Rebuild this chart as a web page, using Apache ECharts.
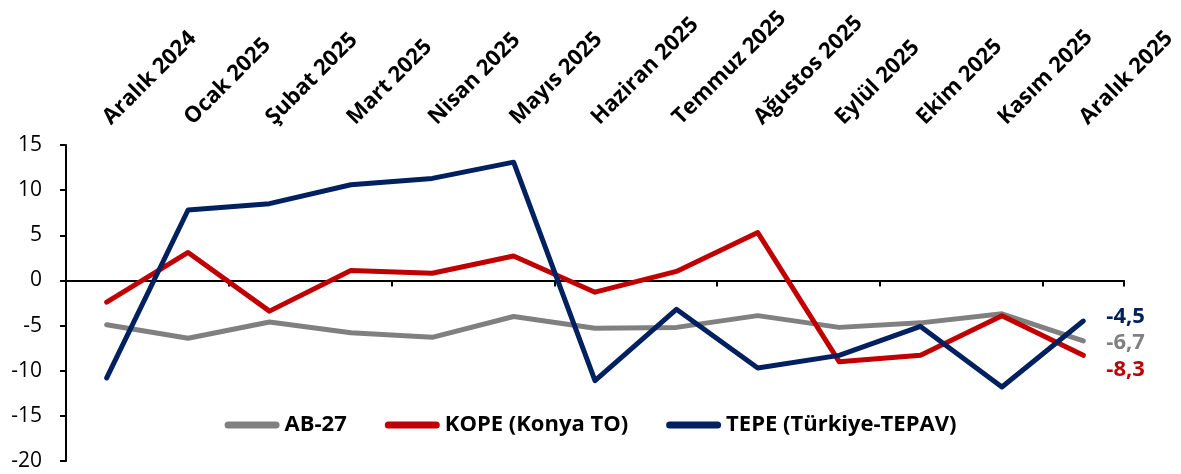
<!DOCTYPE html>
<html>
<head>
<meta charset="utf-8">
<script src="https://cdn.jsdelivr.net/npm/echarts@6/dist/echarts.min.js"></script>
<style>
  html, body { margin: 0; padding: 0; background: #fff; }
  #chart { width: 1181px; height: 474px; }
</style>
</head>
<body>
<div id="chart"></div>
<script>
const months = ["Aralık 2024", "Ocak 2025", "Şubat 2025", "Mart 2025", "Nisan 2025", "Mayıs 2025",
  "Haziran 2025", "Temmuz 2025", "Ağustos 2025", "Eylül 2025", "Ekim 2025", "Kasım 2025", "Aralık 2025"];
const ab27 = [-4.9, -6.4, -4.6, -5.8, -6.3, -4.0, -5.3, -5.2, -3.9, -5.2, -4.7, -3.7, -6.7];
const kope = [-2.4, 3.1, -3.4, 1.1, 0.8, 2.7, -1.3, 1.0, 5.3, -9.0, -8.3, -3.9, -8.3];
const tepe = [-10.8, 7.8, 8.5, 10.6, 11.3, 13.1, -11.1, -3.2, -9.7, -8.3, -5.1, -11.8, -4.5];

const font = "'Open Sans', 'Liberation Sans', sans-serif";

const chart = echarts.init(document.getElementById("chart"));

// value printed at the end of each line, in the series colour
function endLabel(color, dy) {
  return {
    show: true,
    distance: 23,
    offset: [0, dy],
    color: color,
    fontFamily: font,
    fontWeight: "bold",
    fontSize: 22,
    formatter: (p) => String(p.value).replace(".", ",")
  };
}

function lineSeries(name, data, color, dy) {
  return {
    name: name,
    type: "line",
    data: data,
    color: color,
    symbol: "none",
    lineStyle: { width: 5, color: color, cap: "round", join: "round" },
    endLabel: endLabel(color, dy)
  };
}

const option = {
  animation: false,
  grid: { left: 66, right: 57, top: 145, bottom: 13 },
  legend: {
    bottom: 33,
    left: "center",
    itemWidth: 55,
    itemHeight: 7,
    itemGap: 38,
    icon: "path://M3.5,0 L51.5,0 A3.5,3.5 0 0 1 51.5,7 L3.5,7 A3.5,3.5 0 0 1 3.5,0 Z",
    textStyle: { fontFamily: font, fontWeight: "bold", fontSize: 22, color: "#000" },
    data: ["AB-27", "KOPE (Konya TO)", "TEPE (Türkiye-TEPAV)"]
  },
  xAxis: [
    {
      type: "category",
      data: months,
      boundaryGap: true,
      axisLine: { onZero: true, lineStyle: { color: "#000", width: 2 } },
      axisTick: { show: true, inside: false, length: 6, lineStyle: { color: "#000", width: 2 } },
      axisLabel: { show: false },
      splitLine: { show: false }
    },
    {
      type: "category",
      data: months,
      position: "top",
      boundaryGap: true,
      axisLine: { show: false },
      axisTick: { show: false },
      axisLabel: {
        rotate: -45,
        margin: 24,
        interval: 0,
        fontFamily: font,
        fontWeight: "bold",
        fontSize: 22,
        color: "#000"
      }
    }
  ],
  yAxis: {
    type: "value",
    min: -20,
    max: 15,
    interval: 5,
    axisLine: { show: true, lineStyle: { color: "#000", width: 2 } },
    axisTick: { show: true, length: 6, lineStyle: { color: "#000", width: 2 } },
    axisLabel: { fontFamily: font, fontSize: 21, color: "#000", margin: 24 },
    splitLine: { show: false }
  },
  series: [
    lineSeries("AB-27", ab27, "#808080", 2),
    lineSeries("KOPE (Konya TO)", kope, "#C00000", 14),
    lineSeries("TEPE (Türkiye-TEPAV)", tepe, "#002060", -4)
  ]
};

chart.setOption(option);
</script>
</body>
</html>
